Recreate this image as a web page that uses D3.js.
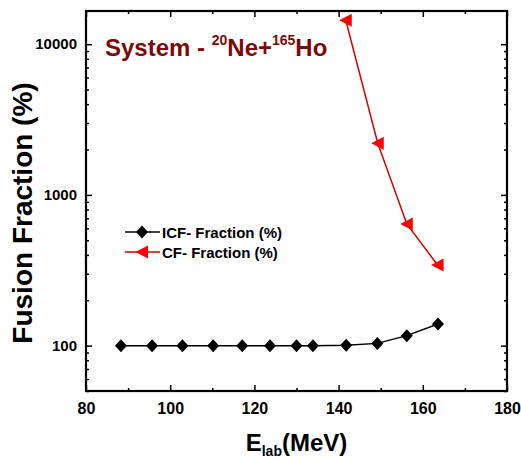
<!DOCTYPE html>
<html>
<head>
<meta charset="utf-8">
<script src="https://cdn.jsdelivr.net/npm/d3@7"></script>
<style>
  body { margin: 0; background: #fff; }
  svg { display: block; font-family: "Liberation Sans", Arial, sans-serif; }
</style>
</head>
<body>
<div id="chart"></div>
<script>
// data
const icfEnergy = [88.3, 95.7, 102.9, 110.2, 117.1, 123.7, 130.0, 133.9, 141.8, 149.2, 156.2, 163.6];
const icfFraction = [100, 100, 100, 100, 100, 100, 100, 100, 100.5, 103.5, 116.5, 139];
const cfEnergy = [141.7, 149.3, 156.2, 163.5];
const cfFraction = [14400, 2200, 642, 343];
const xTicks = [80, 100, 120, 140, 160, 180];
const xMinorTicks = [90, 110, 130, 150, 170];
const yTicks = [100, 1000, 10000];
const seriesNames = ["ICF- Fraction (%)", "CF- Fraction (%)"];

const width = 521;
const height = 461;
const margin = { top: 11, right: 14, bottom: 70, left: 86 };
const innerWidth = width - margin.left - margin.right;
const innerHeight = height - margin.top - margin.bottom;

const svg = d3.select("#chart")
  .append("svg")
  .attr("width", width)
  .attr("height", height);

const g = svg.append("g")
  .attr("transform", `translate(${margin.left}, ${margin.top})`);

const x = d3.scaleLinear().domain([80, 180]).range([0, innerWidth]);
const y = d3.scaleLog().domain([50, 16600]).range([innerHeight, 0]);

// minor ticks for the log axis: 2..9 times each decade
const yMinorTicks = [];
[10, 100, 1000, 10000].forEach(dec => {
  for (let k = 2; k <= 9; k++) {
    const v = dec * k;
    if (v >= 50 && v <= 16600) yMinorTicks.push(v);
  }
});

// axes: ticks point inward on all four sides
function styleAxis(sel) {
  sel.select(".domain").remove();
  sel.selectAll(".tick line").attr("stroke", "#000").attr("stroke-width", 1.5);
}
// for tick-only axes, drop the empty labels
function ticksOnly(sel) {
  styleAxis(sel);
  sel.selectAll(".tick text").remove();
}

g.append("g")
  .attr("transform", `translate(0, ${innerHeight})`)
  .call(d3.axisBottom(x).tickValues(xTicks).tickSize(-6).tickPadding(12).tickFormat(d3.format("d")))
  .call(styleAxis)
  .call(a => a.selectAll("text").attr("font-size", 16).attr("font-weight", "bold").attr("fill", "#000"));

g.append("g")
  .attr("transform", `translate(0, ${innerHeight})`)
  .call(d3.axisBottom(x).tickValues(xMinorTicks).tickSize(-3))
  .call(ticksOnly);

g.append("g")
  .call(d3.axisTop(x).tickValues(xTicks).tickSize(-6))
  .call(ticksOnly);

g.append("g")
  .call(d3.axisTop(x).tickValues(xMinorTicks).tickSize(-3))
  .call(ticksOnly);

g.append("g")
  .call(d3.axisLeft(y).tickValues(yTicks).tickSize(-6).tickPadding(9).tickFormat(d3.format("d")))
  .call(styleAxis)
  .call(a => a.selectAll("text").attr("font-size", 15).attr("font-weight", "bold").attr("fill", "#000"));

g.append("g")
  .call(d3.axisLeft(y).tickValues(yMinorTicks).tickSize(-3))
  .call(ticksOnly);

g.append("g")
  .attr("transform", `translate(${innerWidth}, 0)`)
  .call(d3.axisRight(y).tickValues(yTicks).tickSize(-6))
  .call(ticksOnly);

g.append("g")
  .attr("transform", `translate(${innerWidth}, 0)`)
  .call(d3.axisRight(y).tickValues(yMinorTicks).tickSize(-3))
  .call(ticksOnly);

// frame
g.append("rect")
  .attr("width", innerWidth)
  .attr("height", innerHeight)
  .attr("fill", "none")
  .attr("stroke", "#000")
  .attr("stroke-width", 2.2);

const diamond = "M0,-6.5L6,0L0,6.5L-6,0Z";
const triLeft = "M-6.5,0L6,-6.5L6,6.5Z";

const icfData = icfEnergy.map((e, i) => ({ e: e, v: icfFraction[i] }));
const cfData = cfEnergy.map((e, i) => ({ e: e, v: cfFraction[i] }));

const line = d3.line().x(d => x(d.e)).y(d => y(d.v));

// ICF series
g.append("path")
  .datum(icfData)
  .attr("fill", "none")
  .attr("stroke", "#000")
  .attr("stroke-width", 1.5)
  .attr("d", line);

g.selectAll(".icf")
  .data(icfData)
  .enter().append("path")
    .attr("class", "icf")
    .attr("d", diamond)
    .attr("transform", d => `translate(${x(d.e)}, ${y(d.v)})`)
    .attr("fill", "#000");

// CF series
g.append("path")
  .datum(cfData)
  .attr("fill", "none")
  .attr("stroke", "#d80000")
  .attr("stroke-width", 1.5)
  .attr("d", line);

g.selectAll(".cf")
  .data(cfData)
  .enter().append("path")
    .attr("class", "cf")
    .attr("d", triLeft)
    .attr("transform", d => `translate(${x(d.e)}, ${y(d.v)})`)
    .attr("fill", "#ff0000");

// legend
const legend = svg.append("g").attr("transform", "translate(125, 232)");
const legendItems = [
  { name: seriesNames[0], color: "#000", fill: "#000", marker: diamond },
  { name: seriesNames[1], color: "#d80000", fill: "#ff0000", marker: triLeft }
];
legendItems.forEach((item, i) => {
  const row = legend.append("g").attr("transform", `translate(0, ${i * 20})`);
  row.append("line")
    .attr("x1", 0).attr("x2", 35)
    .attr("stroke", item.color)
    .attr("stroke-width", 1.5);
  row.append("path")
    .attr("d", item.marker)
    .attr("transform", "translate(17, 0)")
    .attr("fill", item.fill);
  row.append("text")
    .attr("x", 37)
    .attr("y", 5.5)
    .attr("font-size", 15)
    .attr("font-weight", "bold")
    .text(item.name);
});

// title inside plot
const title = svg.append("text")
  .attr("x", 105)
  .attr("y", 56)
  .attr("fill", "#7a0a0a")
  .attr("font-size", 24)
  .attr("font-weight", "bold");
title.append("tspan").text("System - ");
title.append("tspan").attr("font-size", 14).attr("dy", -11).text("20");
title.append("tspan").attr("dy", 11).text("Ne+");
title.append("tspan").attr("font-size", 14).attr("dy", -11).text("165");
title.append("tspan").attr("dy", 11).text("Ho");

// axis titles
const xLabel = svg.append("text")
  .attr("x", margin.left + innerWidth / 2)
  .attr("y", 451)
  .attr("text-anchor", "middle")
  .attr("font-size", 24)
  .attr("font-weight", "bold");
xLabel.append("tspan").text("E");
xLabel.append("tspan").attr("font-size", 14).attr("dy", 5).text("lab");
xLabel.append("tspan").attr("dy", -5).text("(MeV)");

svg.append("text")
  .attr("transform", "translate(32, 213) rotate(-90)")
  .attr("text-anchor", "middle")
  .attr("font-size", 28)
  .attr("font-weight", "bold")
  .text("Fusion Fraction (%)");
</script>
</body>
</html>
